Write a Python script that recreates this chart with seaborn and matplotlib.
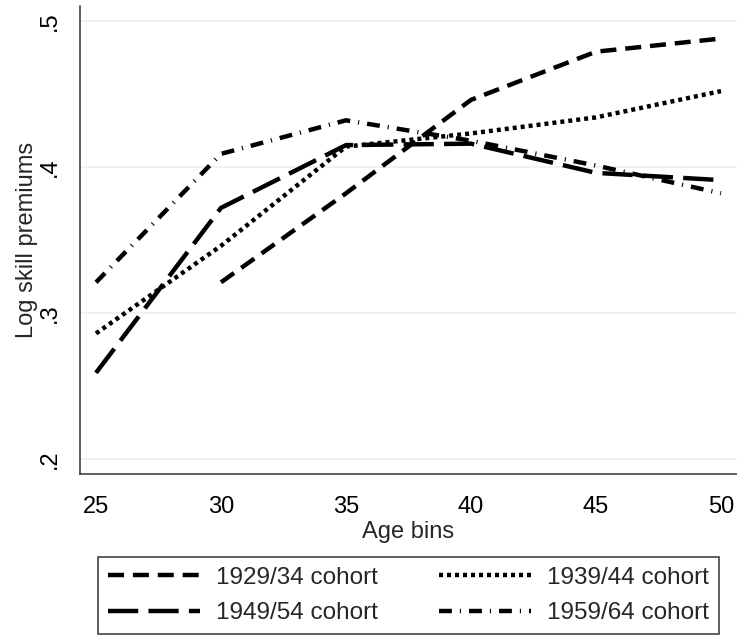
import numpy as np
import pandas as pd
import matplotlib
matplotlib.use("Agg")
import matplotlib.pyplot as plt
import seaborn as sns

# values
ages = [25, 30, 35, 40, 45, 50]
cohorts = ["1929/34 cohort", "1939/44 cohort", "1949/54 cohort", "1959/64 cohort"]
c1929 = [np.nan, 0.321, 0.382, 0.446, 0.479, 0.488]
c1939 = [0.286, 0.346, 0.414, 0.423, 0.434, 0.452]
c1949 = [0.259, 0.372, 0.415, 0.416, 0.396, 0.391]
c1959 = [0.321, 0.409, 0.432, 0.418, 0.401, 0.382]

df = pd.DataFrame({
    "age": ages * 4,
    "premium": c1929 + c1939 + c1949 + c1959,
    "cohort": np.repeat(cohorts, len(ages)),
})

sns.set_style("white")
plt.rcParams["font.family"] = ["Liberation Sans", "DejaVu Sans"]

fig = plt.figure(figsize=(7.37, 6.36), dpi=100)
ax = fig.add_axes([80 / 737, 1 - 474 / 636, 657 / 737, 468 / 636])

dash_styles = {
    "1929/34 cohort": (3.6, 2.0),
    "1939/44 cohort": (0.9, 0.9),
    "1949/54 cohort": (6.8, 2.3),
    "1959/64 cohort": (2.9, 1.8, 0.25, 1.8),
}
sns.lineplot(data=df, x="age", y="premium", hue="cohort", style="cohort",
             palette=["black"] * 4, dashes=dash_styles, linewidth=3.2,
             ax=ax, legend=False, sort=False)

ax.set_xlim(24.36, 50.64)
ax.set_ylim(0.1897, 0.5103)
ax.set_xticks([25, 30, 35, 40, 45, 50])
ax.set_yticks([0.2, 0.3, 0.4, 0.5])
ax.set_yticklabels([".2", ".3", ".4", ".5"], rotation=90, va="center")
ax.grid(axis="y", color="#eaf2f3", linewidth=1.3)
ax.set_axisbelow(True)
for s in ["top", "right"]:
    ax.spines[s].set_visible(False)
for s in ["left", "bottom"]:
    ax.spines[s].set_color("#333333")
    ax.spines[s].set_linewidth(1.1)
ax.tick_params(axis="both", direction="out", length=6.5, width=1.0,
               color="#333333", labelsize=17, labelcolor="black")
ax.tick_params(axis="y", pad=7.5)
ax.tick_params(axis="x", pad=9.5)
ax.set_xlabel("Age bins", fontsize=17, labelpad=2)
ax.set_ylabel("Log skill premiums", fontsize=17)
ax.yaxis.set_label_coords(-0.0634, 0.5)

# legend rows: 1929 | 1939 on top, 1949 | 1959 below (filled column-wise)
lines = ax.get_lines()[:4]
order = [0, 2, 1, 3]
leg = fig.legend([lines[i] for i in order], [cohorts[i] for i in order],
                 ncol=2, loc="upper left",
                 bbox_to_anchor=(97.7 / 737, 1 - 635 / 636, (719 - 97.7) / 737, 78 / 636),
                 mode="expand", fontsize=17.5, handlelength=3.8, handletextpad=0.66,
                 columnspacing=2.0, frameon=True, fancybox=False, framealpha=1,
                 borderpad=0.41, labelspacing=0.54, borderaxespad=0)
leg.get_frame().set_edgecolor("#333333")
leg.get_frame().set_linewidth(1.1)

fig.savefig("out.png", dpi=100)
